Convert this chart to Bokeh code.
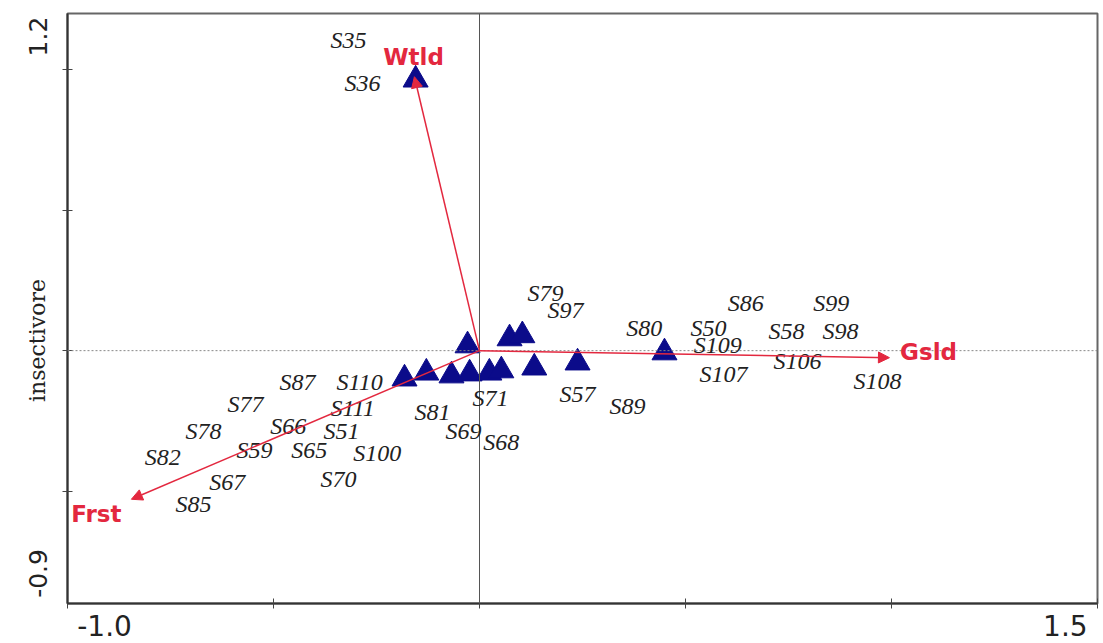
import math
from bokeh.plotting import figure
from bokeh.models import (ColumnDataSource, Range1d, FixedTicker, Span, Label,
                          Arrow, NormalHead, LabelSet)
from bokeh.embed import file_html
from bokeh.resources import INLINE

# Ordination scores of the sampled sites (triangles)
site_x = [-0.155, -0.029, 0.073, 0.104, -0.182, -0.129, -0.068, -0.024, 0.024, 0.053, 0.133, 0.238, 0.449]
site_y = [0.964, 0.018, 0.043, 0.054, -0.100, -0.079, -0.089, -0.082, -0.079, -0.071, -0.061, -0.043, -0.007]

# Site label names and their placement in ordination space
label_names = ["S35", "S36", "S79", "S97", "S80", "S50", "S86", "S99", "S58", "S98",
               "S109", "S106", "S107", "S108", "S57", "S89", "S71", "S81", "S69", "S68",
               "S87", "S110", "S77", "S111", "S66", "S51", "S78", "S59", "S65", "S100",
               "S82", "S67", "S70", "S85"]
label_x = [-0.318, -0.284, 0.160, 0.209, 0.400, 0.556, 0.646, 0.854, 0.745, 0.876,
           0.578, 0.772, 0.592, 0.966, 0.238, 0.359, 0.027, -0.114, -0.039, 0.053,
           -0.442, -0.291, -0.568, -0.308, -0.464, -0.335, -0.670, -0.546, -0.413, -0.248,
           -0.769, -0.612, -0.342, -0.694]
label_y = [1.104, 0.954, 0.204, 0.143, 0.079, 0.079, 0.168, 0.168, 0.071, 0.071,
           0.021, -0.036, -0.082, -0.107, -0.154, -0.196, -0.168, -0.218, -0.286, -0.325,
           -0.111, -0.111, -0.189, -0.204, -0.268, -0.286, -0.286, -0.354, -0.354, -0.364,
           -0.379, -0.468, -0.457, -0.546]

# Habitat vectors
vec_names = ["Wtld", "Gsld", "Frst"]
vec_x = [-0.158, 0.995, -0.845]
vec_y = [0.975, -0.025, -0.529]
vec_label_x = [-0.160, 1.090, -0.930]
vec_label_y = [1.046, -0.004, -0.582]

# tick marks (unlabelled) and the range-end values written inside the axis span
x_ticks = [-1.0, -0.5, 0.0, 0.5, 1.0, 1.5]
y_ticks = [-0.5, 0.0, 0.5, 1.0]
x_end_labels = {-0.910: "-1.0", 1.422: "1.5"}
y_end_labels = {-0.793: "-0.9", 1.118: "1.2"}

RED = "#E3283F"
NAVY = "#0B0B8A"
INK = "#222222"

p = figure(width=1103, height=643, output_backend="svg", toolbar_location=None,
           x_range=Range1d(-1.0, 1.5), y_range=Range1d(-0.9, 1.2),
           min_border_left=67, min_border_right=6, min_border_top=13, min_border_bottom=40)
p.grid.visible = False
p.outline_line_color = "#666666"
p.outline_line_width = 2

for ax, ticks, ends in ((p.xaxis, x_ticks, x_end_labels), (p.yaxis, y_ticks, y_end_labels)):
    ax.ticker = FixedTicker(ticks=list(ends.keys()), minor_ticks=ticks)
    ax.major_label_overrides = ends
    ax.major_tick_line_color = None
    ax.major_tick_in = 0
    ax.major_tick_out = 0
    ax.minor_tick_in = 5
    ax.minor_tick_out = 5
    ax.minor_tick_line_color = "#444444"
    ax.minor_tick_line_width = 1
    ax.axis_line_color = "#333333"
    ax.axis_line_width = 2
    ax.major_label_text_font = "DejaVu Sans"
    ax.major_label_text_color = INK

p.xaxis.major_label_text_font_size = "28px"
p.xaxis.major_label_standoff = 6
p.yaxis.major_label_text_font_size = "25px"
p.yaxis.major_label_orientation = "vertical"
p.yaxis.major_label_standoff = 15

# zero reference lines
p.add_layout(Span(location=0, dimension="height", line_color="#555555", line_width=1))
p.add_layout(Span(location=0, dimension="width", line_color="#888888", line_width=1,
                  line_dash="2 2"))

# site markers
p.scatter(x=site_x, y=site_y, marker="triangle", size=25,
          fill_color=NAVY, line_color=NAVY)

# site labels
src = ColumnDataSource(dict(x=label_x, y=label_y, t=label_names))
p.add_layout(LabelSet(x="x", y="y", text="t", source=src, text_align="center",
                      text_baseline="middle", text_font="DejaVu Serif",
                      text_font_style="italic", text_font_size="24px", text_color=INK))

# habitat vectors
for vx, vy in zip(vec_x, vec_y):
    p.add_layout(Arrow(x_start=0, y_start=0, x_end=vx, y_end=vy,
                       line_color=RED, line_width=1.5,
                       end=NormalHead(size=11, fill_color=RED, line_color=RED)))
for name, lx, ly in zip(vec_names, vec_label_x, vec_label_y):
    p.add_layout(Label(x=lx, y=ly, text=name, text_align="center", text_baseline="middle",
                       text_font="DejaVu Sans", text_font_style="bold",
                       text_font_size="23px", text_color=RED))

# y axis title, drawn in the left side panel so it is not clipped to the frame
p.add_layout(Label(x=-1.0, y=0.036, text="insectivore", text_align="center",
                   text_baseline="middle", angle=math.pi / 2, x_offset=-30,
                   text_font="DejaVu Serif", text_font_size="22px", text_color=INK), "left")

open("out.html", "w").write(file_html(p, INLINE))
